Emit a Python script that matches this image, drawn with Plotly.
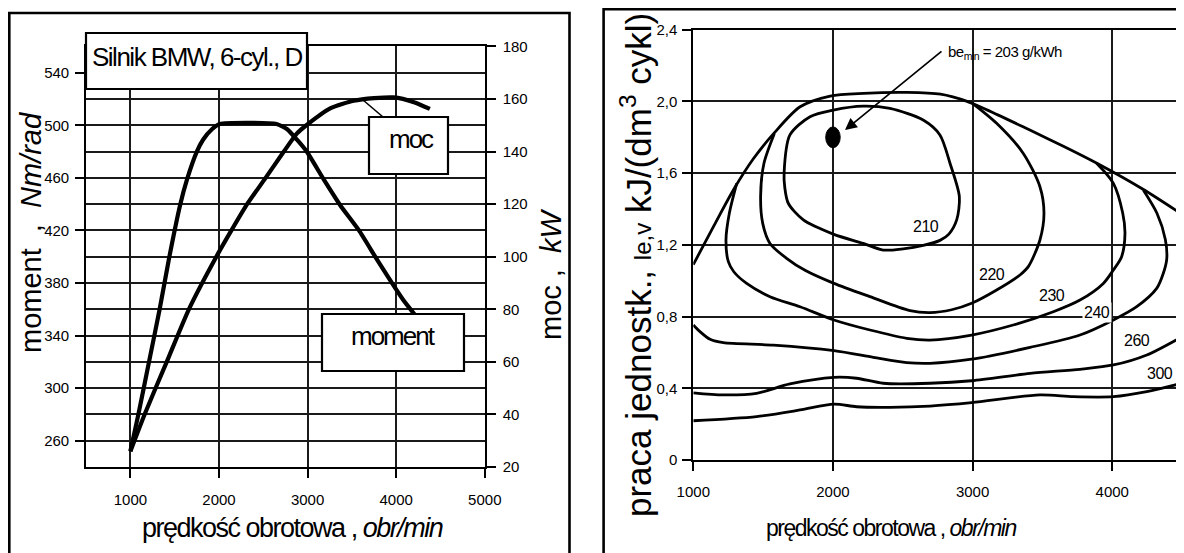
import plotly.graph_objects as go

# ---------------- data: left panel (engine characteristics) ----------------
rpm_moment = [1000, 1090, 1210, 1330, 1440, 1560, 1640, 1750, 1820, 1920, 2010,
              2650, 2770, 2880, 2990, 3180, 3370, 3580, 3800, 4080, 4220]
moment_nm = [252, 280, 320, 360, 400, 439, 459, 480, 489, 497, 501,
             501, 497, 489, 480, 459, 439, 420, 396, 367, 355]

rpm_moc = [1000, 1160, 1410, 1660, 1970, 2140, 2310, 2520, 2730, 2880, 2990,
           3260, 3520, 3750, 3970, 4200, 4380]
moc_kw = [26, 40, 60, 80, 100, 110, 119.6, 129.7, 139.9, 146.9, 150.1,
          156.5, 159.3, 160.3, 160.6, 158.8, 156.2]

rpm_ticks_left = [1000, 2000, 3000, 4000, 5000]
nm_ticks = [260, 300, 340, 380, 420, 460, 500, 540]
kw_ticks = [20, 40, 60, 80, 100, 120, 140, 160, 180]

# ---------------- data: right panel (specific fuel consumption map) ----------------
outer_rpm = [1000, 1150, 1290, 1430, 1575, 1765, 1980, 2220, 2530, 2770, 2960,
             3180, 3410, 3650, 3890, 4220, 4500]
outer_val = [1.09, 1.31, 1.51, 1.68, 1.82, 1.97, 2.03, 2.045, 2.05, 2.04, 2.00,
             1.925, 1.84, 1.75, 1.655, 1.51, 1.37]

c210_rpm = [2217, 2002, 1836, 1692, 1650, 1655, 1680, 1788, 2002, 2217, 2360,
            2503, 2646, 2766, 2830, 2886, 2905, 2838, 2766, 2646, 2408, 2217]
c210_val = [1.974, 1.952, 1.915, 1.813, 1.60, 1.52, 1.432, 1.339, 1.260, 1.208, 1.171,
            1.178, 1.197, 1.225, 1.26, 1.339, 1.469, 1.655, 1.813, 1.896, 1.961, 1.974]

c220_rpm = [1580, 1506, 1482, 1497, 1549, 1668, 1800, 2007, 2265, 2552, 2695,
            2850, 2993, 3172, 3339, 3400, 3482, 3511, 3482, 3363, 3172, 2990]
c220_val = [1.82, 1.655, 1.469, 1.320, 1.208, 1.125, 1.058, 0.985, 0.911, 0.833, 0.822,
            0.838, 0.874, 0.948, 1.032, 1.08, 1.227, 1.376, 1.524, 1.710, 1.878, 1.995]

c230_rpm = [1311, 1258, 1234, 1251, 1290, 1382, 1549, 1764, 2007, 2265, 2528, 2695,
            2993, 3291, 3578, 3769, 3936, 4008, 4067, 4091, 4075, 4008, 3888]
c230_val = [1.543, 1.376, 1.227, 1.106, 1.050, 0.985, 0.911, 0.855, 0.781, 0.725, 0.679, 0.669,
            0.697, 0.753, 0.827, 0.892, 0.985, 1.06, 1.134, 1.264, 1.376, 1.543, 1.655]

c240_rpm = [1000, 1048, 1120, 1215, 1573, 2007, 2289, 2528, 2695, 2993, 3411, 3769,
            4008, 4175, 4318, 4365, 4390, 4380, 4320, 4222]
c240_val = [0.753, 0.716, 0.673, 0.654, 0.641, 0.610, 0.573, 0.543, 0.539, 0.562, 0.628, 0.697,
            0.781, 0.855, 0.957, 1.04, 1.12, 1.23, 1.376, 1.506]

c260_rpm = [1000, 1215, 1453, 1692, 2007, 2169, 2360, 2695, 2993, 3411, 3769, 4008, 4247, 4500]
c260_val = [0.375, 0.363, 0.372, 0.424, 0.461, 0.456, 0.428, 0.428, 0.442, 0.483, 0.506,
            0.530, 0.586, 0.688]

c300_rpm = [1000, 1453, 1764, 2007, 2169, 2408, 2695, 2993, 3482, 3721, 4008, 4247, 4500]
c300_val = [0.219, 0.242, 0.279, 0.312, 0.297, 0.294, 0.301, 0.320, 0.363, 0.353, 0.353,
            0.381, 0.428]

contour_labels = ["210", "220", "230", "240", "260", "300"]
contour_label_rpm = [2665, 3140, 3566, 3888, 4175, 4342]
contour_label_val = [1.30, 1.035, 0.92, 0.822, 0.669, 0.48]

be_min_rpm = 2000
be_min_val = 1.80
be_min_text = "be<sub>min</sub> = 203 g/kWh"

rpm_ticks_right = [1000, 2000, 3000, 4000]
work_ticks = [0, 0.4, 0.8, 1.2, 1.6, 2.0, 2.4]
work_ticktext = ["0", "0,4", "0,8", "1,2", "1,6", "2,0", "2,4"]

# ---------------- figure ----------------
OFF = 8                      # default page margin of the html body
W, H = 1184 - OFF, 553 - OFF
FONT = "Liberation Sans, Arial, sans-serif"


def px(x):
    return (x - OFF) / W


def py(y):
    return 1 - (y - OFF) / H


def tight(t, sp):
    return "<span style='letter-spacing:%spx'>%s</span>" % (sp, t)


fig = go.Figure()

thick = dict(color="black", width=4.2)
fig.add_trace(go.Scatter(x=rpm_moment, y=moment_nm, mode="lines", line=dict(shape="spline", smoothing=0.5, **thick),
                         xaxis="x", yaxis="y", hoverinfo="skip"))
fig.add_trace(go.Scatter(x=rpm_moc, y=moc_kw, mode="lines", line=dict(shape="spline", smoothing=0.6, **thick),
                         xaxis="x", yaxis="y2", hoverinfo="skip"))

cl = dict(color="black", width=2.8, shape="spline", smoothing=0.8)
for xs, ys in [(outer_rpm, outer_val), (c210_rpm, c210_val), (c220_rpm, c220_val),
               (c230_rpm, c230_val), (c240_rpm, c240_val), (c260_rpm, c260_val),
               (c300_rpm, c300_val)]:
    fig.add_trace(go.Scatter(x=xs, y=ys, mode="lines", line=cl, xaxis="x2", yaxis="y3",
                             hoverinfo="skip"))

grid_col = "#1a1a1a"
axis_common = dict(showline=True, linecolor="black", linewidth=1.8, ticks="outside",
                   ticklen=9, tickwidth=1.6, tickcolor="black", showgrid=True,
                   gridcolor=grid_col, gridwidth=1.5, zeroline=False,
                   tickfont=dict(family=FONT, size=15, color="black"))

fig.update_layout(
    width=W, height=H,
    margin=dict(l=0, r=0, t=0, b=0, pad=0, autoexpand=False),
    paper_bgcolor="white", plot_bgcolor="white",
    showlegend=False,
    xaxis=dict(domain=[px(86.1), px(484.8)], range=[500, 5000], anchor="y",
               tickvals=rpm_ticks_left, mirror=True, ticklabelstandoff=9, **axis_common),
    yaxis=dict(domain=[py(467), py(46.4)], range=[240, 560], anchor="x",
               tickvals=nm_ticks, ticklabelstandoff=3, **axis_common),
    yaxis2=dict(overlaying="y", side="right", range=[20, 180], anchor="x",
                tickvals=kw_ticks, ticklabelstandoff=4, **axis_common),
    xaxis2=dict(domain=[px(693.3), px(1182.1)], range=[1000, 4500], anchor="y3",
                tickvals=rpm_ticks_right, mirror=True, ticklabelstandoff=8, **axis_common),
    yaxis3=dict(domain=[py(460), py(29.7)], range=[0, 2.4], anchor="x2",
                tickvals=work_ticks, ticktext=work_ticktext, mirror=True,
                ticklabelstandoff=2, **axis_common),
)

shapes = []
# panel frames
shapes.append(dict(type="rect", xref="paper", yref="paper", x0=px(9.3), x1=px(569.5),
                   y0=py(600), y1=py(13), line=dict(color="black", width=2.6), layer="above"))
shapes.append(dict(type="rect", xref="paper", yref="paper", x0=px(603.6), x1=px(1250),
                   y0=py(600), y1=py(9.3), line=dict(color="black", width=2.6), layer="above"))
# label boxes left panel
for (x0, y0, x1, y1) in [(86, 33, 307, 89), (369, 117, 448, 174), (322, 314, 464, 371)]:
    shapes.append(dict(type="rect", xref="paper", yref="paper", x0=px(x0), x1=px(x1),
                       y0=py(y1), y1=py(y0), fillcolor="white",
                       line=dict(color="black", width=2.2), layer="above"))
# leader for "moc"
shapes.append(dict(type="line", xref="paper", yref="paper", x0=px(363), y0=py(100),
                   x1=px(383), y1=py(117), line=dict(color="black", width=1.6), layer="above"))
# be_min dot
shapes.append(dict(type="circle", xref="x2", yref="y3", x0=be_min_rpm - 52, x1=be_min_rpm + 52,
                   y0=be_min_val - 0.058, y1=be_min_val + 0.058, fillcolor="black",
                   line=dict(color="black", width=1), layer="above"))
fig.update_layout(shapes=shapes)


def note(text, x, y, size, angle=0, xanchor="center"):
    return dict(text=text, xref="paper", yref="paper", x=px(x), y=py(y), xanchor=xanchor,
                yanchor="middle", textangle=angle, showarrow=False,
                font=dict(family=FONT, size=size, color="black"))


ann = []
ann.append(note(tight("Silnik BMW, 6-cyl., D", -1.5), 197, 57, 26))
ann.append(note(tight("moc", -2), 411, 139, 26))
ann.append(note(tight("moment", -2), 393, 336, 26))
# axis titles
ann.append(note("moment  ,  <i>Nm/rad</i>", 31, 233, 29, angle=-90))
ann.append(note("moc ,  <i>kW</i>", 551, 274, 29, angle=-90))
ann.append(note(tight("prędkość obrotowa , <i>obr/min</i>", -1.5), 292, 528, 27))
ann.append(note(tight("prędkość obrotowa , <i>obr/min</i>", -1.5), 891, 528, 23))
ann.append(note("praca jednostk., <span style='font-size:24px'>le,v</span> kJ/(dm<sup>3</sup> cykl)",
                636, 265, 35, angle=-90))
# contour labels
for t, xv, yv in zip(contour_labels, contour_label_rpm, contour_label_val):
    ann.append(dict(text=tight(t, -0.5), xref="x2", yref="y3", x=xv, y=yv, showarrow=False,
                    xanchor="center", yanchor="middle",
                    bgcolor="white" if t == "240" else None, borderpad=1,
                    font=dict(family=FONT, size=16, color="black")))
# be_min annotation and arrow
ann.append(note(tight(be_min_text, -0.5), 946, 53, 15, xanchor="left"))
ann.append(dict(text="", xref="x2", yref="y3", x=be_min_rpm + 86, y=be_min_val + 0.04,
                ax=98, ay=-80, showarrow=True, arrowhead=2, arrowsize=1.4, arrowwidth=1.7,
                arrowcolor="black"))
fig.update_layout(annotations=ann)

fig.write_html("out.html")
